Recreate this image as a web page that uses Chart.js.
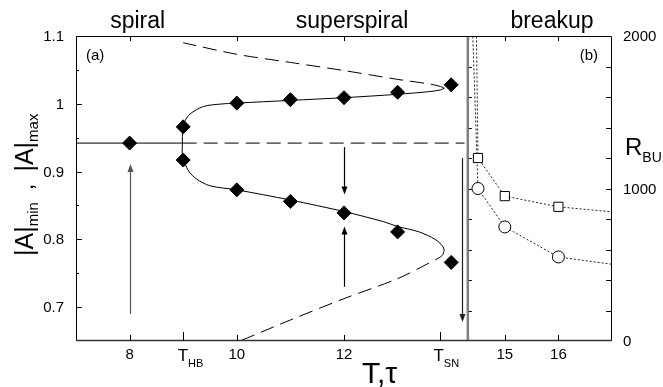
<!DOCTYPE html>
<html>
<head>
<meta charset="utf-8">
<script src="https://cdn.jsdelivr.net/npm/chart.js@4/dist/chart.umd.min.js"></script>
<style>
  html, body { margin: 0; padding: 0; background: #fff; }
  #wrap { width: 663px; height: 387px; }
</style>
</head>
<body>
<div id="wrap"><canvas id="chart1" width="663" height="387"></canvas></div>
<script>
// special positions on the T axis
const tHB = 8.99;
const tSN = 13.8;
const tDiv = 14.31;
const hopfLevel = 0.942;

// bottom / top tick labels
const xTicks = [8, 10, 12, 15, 16];
const xTopTicks = [8, 10, 12, 15, 16];
const yTicks = [0.7, 0.8, 0.9, 1.0, 1.1];
const yTickLabels = ['0.7', '0.8', '0.9', '1', '1.1'];
const yMinorTicks = [0.75, 0.85, 0.95, 1.05];
const y2Labels = [0, 1000, 2000];
const y2Ticks = [200, 400, 600, 800, 1000, 1200, 1400, 1600, 1800];

// stable branch (solid): lower part -> Hopf nose -> upper part
const solidX = [13.87, 13.84, 13.7, 13.4, 13, 12.74, 12, 11, 10, 9.5, 9.25, 9.1, 8.99, 8.985,
                8.99, 9.035, 9.128, 9.376, 9.69, 10, 11, 12, 13, 13.6, 13.8, 13.87];
const solidY = [0.784, 0.79, 0.8, 0.811, 0.819, 0.826, 0.841, 0.858, 0.873, 0.879, 0.889, 0.901, 0.922, 0.942,
                0.962, 0.975, 0.985, 0.996, 0.9995, 1.001, 1.005, 1.009, 1.014, 1.018, 1.0205, 1.023];
// unstable branches (dashed)
const upDashX = [13.87, 13.8, 13.61, 13, 12, 11, 10, 9];
const upDashY = [1.023, 1.0255, 1.029, 1.036, 1.049, 1.061, 1.073, 1.09];
const loDashX = [13.87, 13.83, 13.61, 13, 12, 11, 10.06];
const loDashY = [0.784, 0.776, 0.766, 0.742, 0.7125, 0.681, 0.65];

// simulation points
const diamondX = [8, 9, 9, 10, 11, 12, 13, 14, 10, 11, 12, 13, 14];
const diamondY = [0.942, 0.966, 0.917, 1.001, 1.006, 1.009, 1.017, 1.028, 0.873, 0.856, 0.839, 0.811, 0.766];

// R_BU (panel b)
const squareX = [14.45, 14.5, 15, 16, 17.5];
const squareY = [2600, 1200, 950, 880, 830];
const circleX = [14.345, 14.5, 15, 16, 17.5];
const circleY = [2600, 1000, 748, 551, 479];

// arrows: x, from, to
const arrowX = [8, 12, 12, 14.2];
const arrowFrom = [0.69, 0.936, 0.73, 0.92];
const arrowTo = [0.911, 0.866, 0.819, 0.678];
const arrowColor = ['#555', '#000', '#000', '#222'];

const FONT = '"Liberation Sans", Arial, sans-serif';

function pts(xs, ys) {
    return xs.map((v, i) => ({ x: v, y: ys[i] }));
}

const overlay = {
    id: 'overlay',
    afterDatasetsDraw(chart) {
        const { ctx, chartArea: a, scales } = chart;
        const x = scales.x, y = scales.y, y2 = scales.y2;
        ctx.save();

        // divider between panels
        const xd = x.getPixelForValue(tDiv);
        ctx.strokeStyle = '#808080';
        ctx.lineWidth = 2.5;
        ctx.beginPath();
        ctx.moveTo(xd, a.top);
        ctx.lineTo(xd, a.bottom);
        ctx.stroke();

        // frame
        ctx.strokeStyle = '#000';
        ctx.lineWidth = 1;
        ctx.beginPath();
        ctx.moveTo(a.left + 0.5, a.bottom);
        ctx.lineTo(a.left + 0.5, a.top + 0.5);
        ctx.lineTo(a.right - 0.5, a.top + 0.5);
        ctx.lineTo(a.right - 0.5, a.bottom);
        ctx.stroke();
        ctx.strokeStyle = '#333';
        ctx.lineWidth = 1.3;
        ctx.beginPath();
        ctx.moveTo(a.left, a.bottom - 0.5);
        ctx.lineTo(a.right, a.bottom - 0.5);
        ctx.stroke();

        // ticks
        ctx.strokeStyle = '#000';
        ctx.lineWidth = 1;
        ctx.beginPath();
        xTopTicks.forEach(v => {
            const px = Math.round(x.getPixelForValue(v)) + 0.5;
            ctx.moveTo(px, a.top);
            ctx.lineTo(px, a.top + 5);
        });
        xTicks.forEach(v => {
            const px = Math.round(x.getPixelForValue(v)) + 0.5;
            ctx.moveTo(px, a.bottom);
            ctx.lineTo(px, a.bottom - 6);
        });
        [tHB, tSN].forEach(v => {
            const px = Math.round(x.getPixelForValue(v)) + 0.5;
            ctx.moveTo(px, a.bottom);
            ctx.lineTo(px, a.bottom - 9);
        });
        yTicks.forEach(v => {
            const py = Math.round(y.getPixelForValue(v)) + 0.5;
            ctx.moveTo(a.left, py);
            ctx.lineTo(a.left + 6, py);
        });
        yMinorTicks.forEach(v => {
            const py = Math.round(y.getPixelForValue(v)) + 0.5;
            ctx.moveTo(a.left, py);
            ctx.lineTo(a.left + 3, py);
        });
        y2Ticks.forEach(v => {
            const py = Math.round(y2.getPixelForValue(v)) + 0.5;
            ctx.moveTo(a.right, py);
            ctx.lineTo(a.right - 6, py);
            ctx.moveTo(xd + 1, py);
            ctx.lineTo(xd + 4, py);
        });
        ctx.stroke();

        // arrows
        arrowX.forEach((v, i) => {
            const px = Math.round(x.getPixelForValue(v)) + 0.5;
            const p0 = y.getPixelForValue(arrowFrom[i]);
            const p1 = y.getPixelForValue(arrowTo[i]);
            const dir = p1 < p0 ? -1 : 1;
            ctx.strokeStyle = arrowColor[i];
            ctx.fillStyle = arrowColor[i];
            ctx.lineWidth = 1.2;
            ctx.beginPath();
            ctx.moveTo(px, p0);
            ctx.lineTo(px, p1 - dir * 6);
            ctx.stroke();
            ctx.beginPath();
            ctx.moveTo(px, p1);
            ctx.lineTo(px - 3, p1 - dir * 8);
            ctx.lineTo(px + 3, p1 - dir * 8);
            ctx.closePath();
            ctx.fill();
        });

        // tick labels
        ctx.fillStyle = '#000';
        ctx.font = '15px ' + FONT;
        ctx.textAlign = 'center';
        ctx.textBaseline = 'middle';
        xTicks.forEach(v => {
            ctx.fillText(String(v), x.getPixelForValue(v), a.bottom + 14);
        });
        const subLabel = (main, sub, cx, cy, mainSize, subSize, dy) => {
            ctx.font = mainSize + 'px ' + FONT;
            const w1 = ctx.measureText(main).width;
            ctx.textAlign = 'left';
            ctx.fillText(main, cx, cy);
            ctx.font = subSize + 'px ' + FONT;
            ctx.fillText(sub, cx + w1, cy + dy);
        };
        ctx.textBaseline = 'alphabetic';
        subLabel('T', 'HB', x.getPixelForValue(tHB) - 5, a.bottom + 20, 17, 11, 6);
        subLabel('T', 'SN', x.getPixelForValue(tSN) - 7, a.bottom + 20, 17, 11, 6);

        ctx.font = '15px ' + FONT;
        ctx.textAlign = 'right';
        ctx.textBaseline = 'middle';
        yTicks.forEach((v, i) => {
            ctx.fillText(yTickLabels[i], a.left - 12, y.getPixelForValue(v) + 1);
        });
        ctx.textAlign = 'left';
        y2Labels.forEach(v => {
            ctx.fillText(String(v), a.right + 11, y2.getPixelForValue(v) + 1);
        });

        // panel tags and regime names
        ctx.font = '15px ' + FONT;
        ctx.textAlign = 'left';
        ctx.fillText('(a)', a.left + 10, a.top + 20);
        ctx.textAlign = 'right';
        ctx.fillText('(b)', a.right - 14, a.top + 20);
        ctx.font = '23px ' + FONT;
        ctx.textAlign = 'center';
        ctx.textBaseline = 'alphabetic';
        ctx.fillText('spiral', x.getPixelForValue(8.15), 28);
        ctx.fillText('superspiral', x.getPixelForValue(12.15), 28);
        ctx.fillText('breakup', x.getPixelForValue(15.88), 28);

        // axis titles
        ctx.font = '30px ' + FONT;
        ctx.textAlign = 'left';
        ctx.fillText('T,\u03C4', 362, 383);
        subLabel('R', 'BU', a.right + 13, 155, 24, 14, 7);

        ctx.save();
        ctx.translate(33, 256);
        ctx.rotate(-Math.PI / 2);
        let cx = 0;
        const part = (t, size, dy) => {
            ctx.font = size + 'px ' + FONT;
            ctx.textAlign = 'left';
            ctx.fillText(t, cx, dy);
            cx += ctx.measureText(t).width;
        };
        part('|A|', 25, 0);
        part('min', 15, 5);
        part('  ,  ', 22, 0);
        part('|A|', 25, 0);
        part('max', 15, 5);
        ctx.restore();

        ctx.restore();
    }
};

function initializeChart() {
    const ctx = document.getElementById('chart1').getContext('2d');
    new Chart(ctx, {
        type: 'scatter',
        data: {
            datasets: [
                {
                    data: pts([7, tHB], [hopfLevel, hopfLevel]),
                    showLine: true, borderColor: '#000', borderWidth: 1, pointRadius: 0
                },
                {
                    data: pts([tHB, 14.25], [hopfLevel, hopfLevel]),
                    showLine: true, borderColor: '#000', borderWidth: 1, borderDash: [14, 7], pointRadius: 0
                },
                {
                    data: pts(solidX, solidY),
                    showLine: true, borderColor: '#000', borderWidth: 1, pointRadius: 0, tension: 0.3
                },
                {
                    data: pts(upDashX, upDashY),
                    showLine: true, borderColor: '#000', borderWidth: 1, borderDash: [14, 7], pointRadius: 0, tension: 0.3
                },
                {
                    data: pts(loDashX, loDashY),
                    showLine: true, borderColor: '#000', borderWidth: 1, borderDash: [14, 7], pointRadius: 0, tension: 0.3
                },
                {
                    data: pts(diamondX, diamondY),
                    pointStyle: 'rectRot', pointRadius: 7, backgroundColor: '#000', borderColor: '#000', borderWidth: 1
                },
                {
                    yAxisID: 'y2',
                    data: pts(squareX, squareY),
                    showLine: true, borderColor: '#222', borderWidth: 1, borderDash: [2, 2],
                    pointStyle: 'rect', pointRadius: 6.5, backgroundColor: '#fff', pointBorderColor: '#000', pointBorderWidth: 1
                },
                {
                    yAxisID: 'y2',
                    data: pts(circleX, circleY),
                    showLine: true, borderColor: '#222', borderWidth: 1, borderDash: [2, 2],
                    pointStyle: 'circle', pointRadius: 6, backgroundColor: '#fff', pointBorderColor: '#000', pointBorderWidth: 1
                }
            ]
        },
        options: {
            responsive: false,
            animation: false,
            devicePixelRatio: 1,
            layout: { padding: { left: 76, right: 51, top: 36, bottom: 46 } },
            plugins: { legend: { display: false }, tooltip: { enabled: false } },
            scales: {
                x: { type: 'linear', min: 7, max: 17, display: false },
                y: { type: 'linear', min: 0.65, max: 1.1, display: false },
                y2: { type: 'linear', min: 0, max: 2000, display: false, position: 'right' }
            }
        },
        plugins: [overlay]
    });
}

window.onload = initializeChart;
</script>
</body>
</html>
